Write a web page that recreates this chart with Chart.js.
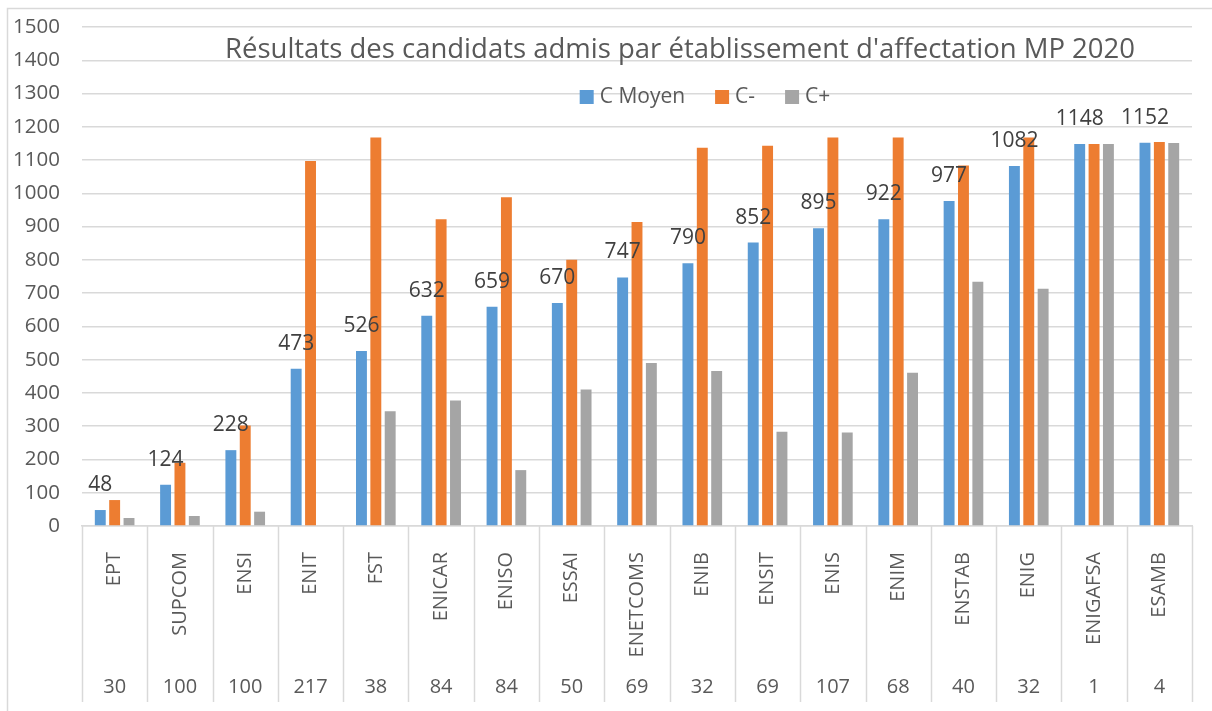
<!DOCTYPE html>
<html>
<head>
<meta charset="utf-8">
<script src="https://cdn.jsdelivr.net/npm/chart.js@4/dist/chart.umd.min.js"></script>
<style>
  body { margin: 0; background: #fff; }
  #wrap { width: 1212px; height: 711px; position: relative; }
</style>
</head>
<body>
<div id="wrap"><canvas id="chart"></canvas></div>
<script>
// categories (établissements) and the second level label (nombre de places)
var schools = ['EPT', 'SUPCOM', 'ENSI', 'ENIT', 'FST', 'ENICAR', 'ENISO', 'ESSAI', 'ENETCOMS',
               'ENIB', 'ENSIT', 'ENIS', 'ENIM', 'ENSTAB', 'ENIG', 'ENIGAFSA', 'ESAMB'];
var places = [30, 100, 100, 217, 38, 84, 84, 50, 69, 32, 69, 107, 68, 40, 32, 1, 4];

// series values
var cMoyen = [48, 124, 228, 473, 526, 632, 659, 670, 747, 790, 852, 895, 922, 977, 1082, 1148, 1152];
var cMoins = [78, 190, 302, 1097, 1168, 922, 988, 800, 914, 1137, 1143, 1168, 1168, 1084, 1168, 1148, 1154];
var cPlus  = [24, 30, 43, 0, 345, 377, 168, 410, 490, 466, 283, 281, 461, 734, 713, 1148, 1151];

var titleText = "Résultats des candidats admis par établissement d'affectation MP 2020";
var FONT = '"Open Sans", "DejaVu Sans", sans-serif';
var TEXT = '#595959';
var LINE = '#d9d9d9';

// draws title, legend, value labels and the bottom category grid
var decor = {
    id: 'decor',
    beforeDraw: function(chart) {
        var ctx = chart.ctx;
        ctx.save();
        ctx.strokeStyle = LINE;
        ctx.lineWidth = 1.5;
        ctx.beginPath();
        ctx.moveTo(7.5, 720);
        ctx.lineTo(7.5, 8.5);
        ctx.lineTo(1220, 8.5);
        ctx.stroke();
        ctx.restore();
    },
    afterDatasetsDraw: function(chart) {
        var ctx = chart.ctx;
        var area = chart.chartArea;
        var x = chart.scales.x;
        ctx.save();

        // value labels on the C Moyen bars
        ctx.font = '21px ' + FONT;
        ctx.fillStyle = '#404040';
        ctx.textAlign = 'center';
        ctx.textBaseline = 'middle';
        chart.getDatasetMeta(0).data.forEach(function(bar, i) {
            ctx.fillText(cMoyen[i], bar.x, bar.y - 25);
        });

        // separators under the axis
        ctx.strokeStyle = LINE;
        ctx.lineWidth = 1.5;
        var half = (x.getPixelForValue(1) - x.getPixelForValue(0)) / 2;
        ctx.beginPath();
        for (var i = 0; i <= schools.length; i++) {
            var px = Math.round(x.getPixelForValue(0) - half + i * half * 2) + 0.5;
            ctx.moveTo(px, area.bottom);
            ctx.lineTo(px, 702);
        }
        ctx.stroke();

        // places row
        ctx.fillStyle = TEXT;
        ctx.font = '20px ' + FONT;
        places.forEach(function(p, i) {
            ctx.fillText(p, x.getPixelForValue(i), 687);
        });

        // title
        ctx.font = '27.5px ' + FONT;
        ctx.fillText(titleText, 680, 50);

        // legend
        ctx.font = '21px ' + FONT;
        var items = chart.data.datasets;
        var widths = items.map(function(d) { return 14 + 6 + ctx.measureText(d.label).width; });
        var total = widths.reduce(function(a, b) { return a + b; }, 0) + 30 * (items.length - 1);
        var lx = 705 - total / 2;
        ctx.textAlign = 'left';
        items.forEach(function(d, i) {
            ctx.fillStyle = d.backgroundColor;
            ctx.fillRect(lx, 90, 14, 14);
            ctx.fillStyle = TEXT;
            ctx.fillText(d.label, lx + 20, 97);
            lx += widths[i] + 30;
        });
        ctx.restore();
    }
};

new Chart(document.getElementById('chart'), {
    type: 'bar',
    data: {
        labels: schools,
        datasets: [
            { label: 'C Moyen', data: cMoyen, backgroundColor: '#5b9bd5' },
            { label: 'C-', data: cMoins, backgroundColor: '#ed7d31' },
            { label: 'C+', data: cPlus, backgroundColor: '#a5a5a5' }
        ]
    },
    options: {
        responsive: true,
        maintainAspectRatio: false,
        animation: false,
        layout: { padding: { top: 27, right: 20, left: 0, bottom: 0 } },
        datasets: { bar: { categoryPercentage: 0.66, barPercentage: 0.76 } },
        plugins: {
            legend: { display: false },
            title: { display: false },
            tooltip: { enabled: false }
        },
        scales: {
            x: {
                grid: { display: false },
                border: { color: LINE, width: 1.5 },
                ticks: {
                    color: TEXT,
                    font: { family: FONT, size: 20 },
                    minRotation: 90,
                    maxRotation: 90,
                    padding: 18,
                    autoSkip: false
                },
                afterFit: function(s) {
                    s.height = 185;
                    s.paddingLeft = s.paddingRight = s.paddingTop = s.paddingBottom = 0;
                }
            },
            y: {
                min: 0,
                max: 1500,
                grid: { color: LINE, lineWidth: 1.5, drawTicks: false },
                border: { display: false },
                ticks: {
                    stepSize: 100,
                    color: TEXT,
                    font: { family: FONT, size: 20.5 },
                    padding: 22,
                    callback: function(v) { return String(v); }
                },
                afterFit: function(s) {
                    s.width = 82;
                    s.paddingLeft = s.paddingRight = s.paddingTop = s.paddingBottom = 0;
                }
            }
        }
    },
    plugins: [decor]
});
</script>
</body>
</html>
